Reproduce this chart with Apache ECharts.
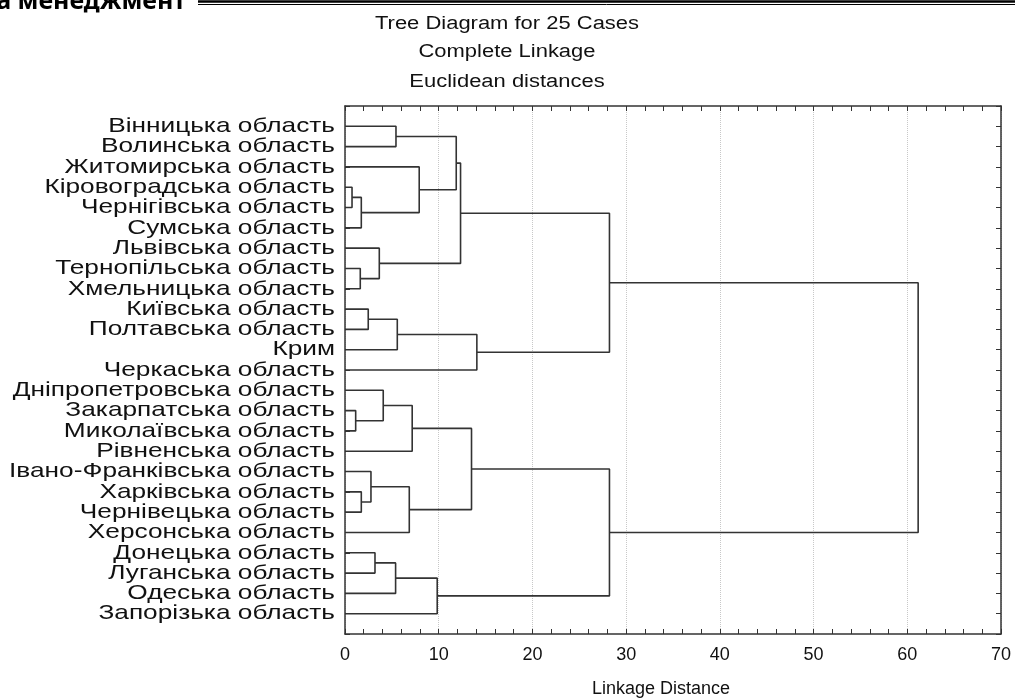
<!DOCTYPE html>
<html style="height: 100%">
<head>
    <meta charset="UTF-8">
    <title>Tree Diagram for 25 Cases</title>
    <script src="https://cdn.jsdelivr.net/npm/echarts@6/dist/echarts.min.js"></script>
</head>
<body style="height: 100%; margin: 0; background: #fff">
    <div id="main" style="width: 1015px; height: 700px;"></div>
    <script>
        // листки дерева (зверху вниз)
        var leafNames = [
            'Вінницька область', 'Волинська область', 'Житомирська область',
            'Кіровоградська область', 'Чернігівська область', 'Сумська область',
            'Львівська область', 'Тернопільська область', 'Хмельницька область',
            'Київська область', 'Полтавська область', 'Крим', 'Черкаська область',
            'Дніпропетровська область', 'Закарпатська область', 'Миколаївська область',
            'Рівненська область', 'Івано-Франківська область', 'Харківська область',
            'Чернівецька область', 'Херсонська область', 'Донецька область',
            'Луганська область', 'Одеська область', 'Запорізька область'
        ];

        // об'єднання кластерів: індекси 0..24 - листки, 25.. - результати об'єднань
        var mergeLeft  = [3, 14, 7, 25, 18, 9, 17, 21, 6, 13, 32, 0, 30, 31, 34, 2, 35, 36, 42, 39, 37, 43, 44, 46];
        var mergeRight = [4, 15, 8, 5, 19, 10, 29, 22, 27, 26, 23, 1, 11, 20, 16, 28, 24, 40, 33, 38, 12, 45, 41, 47];
        var mergeDist  = [0.75, 1.14, 1.63, 1.74, 1.74, 2.48, 2.77, 3.2, 3.66, 4.08, 5.4, 5.44, 5.58,
                          6.86, 7.17, 7.92, 9.84, 11.87, 12.33, 13.5, 14.07, 28.22, 28.22, 61.16];

        var xTicks = [0, 10, 20, 30, 40, 50, 60, 70];
        var titleLines = ['Tree Diagram for 25 Cases', 'Complete Linkage', 'Euclidean distances'];

        var myChart = echarts.init(document.getElementById('main'));

        // позиції вузлів
        var nodeX = [], nodeY = [];
        leafNames.forEach(function (n, i) { nodeX.push(0); nodeY.push(i); });

        var series = [];
        mergeDist.forEach(function (d, k) {
            var l = mergeLeft[k], r = mergeRight[k];
            nodeX.push(d);
            nodeY.push((nodeY[l] + nodeY[r]) / 2);
            series.push({
                type: 'line',
                silent: true,
                symbol: 'none',
                animation: false,
                lineStyle: { color: '#333', width: 1.6 },
                data: [[nodeX[l], nodeY[l]], [d, nodeY[l]], [d, nodeY[r]], [nodeX[r], nodeY[r]]]
            });
        });

        var textFont = 'Liberation Sans, Arial, sans-serif';

        // підписи листків (розтягнуті по горизонталі, як у STATISTICA)
        series.push({
            type: 'custom',
            silent: true,
            animation: false,
            clip: false,
            data: leafNames.map(function (n, i) { return [0, i]; }),
            renderItem: function (params, api) {
                var p = api.coord([api.value(0), api.value(1)]);
                return {
                    type: 'text',
                    x: p[0] - 10,
                    y: p[1],
                    scaleX: 1.25,
                    style: {
                        text: leafNames[params.dataIndex],
                        font: '21px ' + textFont,
                        fill: '#111',
                        align: 'right',
                        verticalAlign: 'middle'
                    }
                };
            }
        });

        var graphics = [
            {
                type: 'text', x: 186, y: 2,
                style: {
                    text: 'та менеджмент', font: 'bold 25px "Noto Sans", sans-serif',
                    fill: '#000', align: 'right', verticalAlign: 'middle'
                }
            },
            { type: 'line', shape: { x1: 198, y1: 1.5, x2: 1015, y2: 1.5 }, style: { stroke: '#000', lineWidth: 2.5 } },
            { type: 'line', shape: { x1: 198, y1: 4.5, x2: 1015, y2: 4.5 }, style: { stroke: '#000', lineWidth: 1 } }
        ];
        var titleY = [24, 52, 82];
        titleLines.forEach(function (t, i) {
            graphics.push({
                type: 'text', x: 507, y: titleY[i], scaleX: 1.22,
                style: {
                    text: t, font: '18px ' + textFont, fill: '#111',
                    align: 'center', verticalAlign: 'middle'
                }
            });
        });

        var option = {
            backgroundColor: '#fff',
            graphic: graphics,
            grid: { left: 345, right: 14, top: 106, bottom: 66, containLabel: false, outerBoundsMode: 'none' },
            xAxis: [{
                type: 'value', min: 0, max: 70, interval: 10, position: 'bottom',
                name: 'Linkage Distance', nameLocation: 'middle', nameGap: 46,
                nameTextStyle: { fontFamily: textFont, fontSize: 18, color: '#111', padding: [0, 24, 0, 0] },
                axisLine: { onZero: false, lineStyle: { color: '#333', width: 1.5 } },
                axisTick: { inside: true, length: 5, lineStyle: { color: '#333' } },
                minorTick: { show: true, splitNumber: 5, length: 5, lineStyle: { color: '#333' } },
                axisLabel: {
                    fontFamily: textFont, fontSize: 18, color: '#111', margin: 12,
                    formatter: function (v) { return xTicks.indexOf(v) >= 0 ? String(v) : ''; }
                },
                splitLine: { show: true, lineStyle: { color: '#c8c8c8', type: 'dotted' } }
            }, {
                type: 'value', min: 0, max: 70, interval: 10, position: 'top',
                axisLine: { onZero: false, lineStyle: { color: '#333', width: 1.5 } },
                axisTick: { inside: true, length: 5, lineStyle: { color: '#333' } },
                minorTick: { show: true, splitNumber: 5, length: 5, lineStyle: { color: '#333' } },
                axisLabel: { show: false },
                splitLine: { show: false }
            }],
            yAxis: [{
                type: 'value', min: -1, max: 25, interval: 1, inverse: true, position: 'left',
                axisLine: { onZero: false, lineStyle: { color: '#333', width: 1.5 } },
                axisTick: { inside: true, length: 5, lineStyle: { color: '#333' } },
                axisLabel: { show: false },
                splitLine: { show: false }
            }, {
                type: 'value', min: -1, max: 25, interval: 1, inverse: true, position: 'right',
                axisLine: { onZero: false, lineStyle: { color: '#333', width: 1.5 } },
                axisTick: { inside: true, length: 5, lineStyle: { color: '#333' } },
                axisLabel: { show: false },
                splitLine: { show: false }
            }],
            series: series
        };

        myChart.setOption(option);
    </script>
</body>
</html>
